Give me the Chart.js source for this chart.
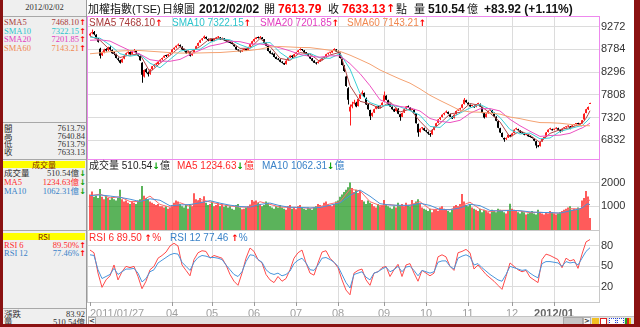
<!DOCTYPE html>
<html>
<head>
<meta charset="utf-8">
<title>加權指數(TSE) 日線圖</title>
<script src="https://cdn.jsdelivr.net/npm/chart.js@4.4.0/dist/chart.umd.min.js"></script>
<style>
    * { box-sizing: border-box; }
    body {
        margin: 0; width: 640px; height: 327px; overflow: hidden; position: relative; background: #fff;
        font-family: "Liberation Sans", "Noto Sans CJK TC", sans-serif;
    }
    canvas { position: absolute; z-index: 1; }
    .frame { position: absolute; background: #8a1212; z-index: 5; }
    .panel { position: absolute; border: 1px solid #c8c8c8; z-index: 0; }
    #pricePanel { border-color: #ee88ee; z-index: 2; }

    /* barra superior */
    .ttl { position: absolute; top: 3px; font-size: 11px; line-height: 12px; white-space: pre; color: #111; z-index: 3; }
    .ttl.b { font-weight: bold; font-size: 12px; }
    .red { color: #ff0000; }

    /* leyendas dentro de los paneles */
    .lg { position: absolute; font-size: 10px; line-height: 10px; white-space: pre; z-index: 3; }
    .arr { font-family: "DejaVu Sans", sans-serif; font-weight: bold; font-size: 9px; }
    .aUp { color: #ff0000; }
    .aDn { color: #00a000; }

    /* panel izquierdo */
    #side { position: absolute; left: 3px; top: 0; width: 84px; height: 324px; background: #efefef; border-right: 1px solid #9a9a9a; }
    .sep { position: absolute; left: 0; width: 83px; height: 1px; background: #a8a8a8; }
    .row { position: absolute; left: 0; width: 83px; height: 9px; font: 8.5px/9px "Liberation Serif", "Noto Sans CJK TC", serif; color: #333; }
    .row .k { position: absolute; left: 1px; }
    .row .v { position: absolute; right: 7px; }
    .row .vr { position: absolute; right: 1px; }
    .row .ar { position: absolute; right: 0; font: bold 8px/9px "DejaVu Sans", sans-serif; }
    .hdr { position: absolute; left: 0; width: 82px; height: 7px; background: #ffff00; text-align: center;
           font: 8px/7px "Noto Sans CJK TC", "Liberation Serif", serif; color: #7a1a00; }

    /* barra de desplazamiento */
    #scroll { position: absolute; left: 88px; top: 316px; width: 546px; height: 9px; background: #e2e2e2; border-top: 1px solid #c4c4c4; z-index: 4; }
    .sbtn { position: absolute; top: 0; width: 8px; height: 8px; background: #f6f6f6; border: 1px solid #b0b0b0;
            font: bold 7px/6px "DejaVu Sans", sans-serif; text-align: center; color: #333; }
    .ico { position: absolute; top: 1px; width: 7px; height: 7px; }
</style>
</head>
<body>

<!-- marco -->
<div class="frame" style="left:0;top:0;width:3px;height:327px"></div>
<div class="frame" style="left:634px;top:0;width:6px;height:327px"></div>
<div class="frame" style="left:0;top:324px;width:640px;height:3px"></div>

<!-- panel izquierdo -->
<div id="side">
    <div class="row" style="top:3px;text-align:center">2012/02/02</div>
    <div class="sep" style="top:16px"></div>

    <div class="row" style="top:18px;color:#a83a3a"><span class="k">SMA5</span><span class="v">7468.10</span><span class="ar aUp">↑</span></div>
    <div class="row" style="top:26.5px;color:#2cc4cc"><span class="k">SMA10</span><span class="v">7322.15</span><span class="ar aUp">↑</span></div>
    <div class="row" style="top:35px;color:#e23cc0"><span class="k">SMA20</span><span class="v">7201.85</span><span class="ar aUp">↑</span></div>
    <div class="row" style="top:43.5px;color:#f08850"><span class="k">SMA60</span><span class="v">7143.21</span><span class="ar aUp">↑</span></div>
    <div class="sep" style="top:122px"></div>

    <div class="row" style="top:123.5px"><span class="k">開</span><span class="vr">7613.79</span></div>
    <div class="row" style="top:131.5px"><span class="k">高</span><span class="vr">7640.84</span></div>
    <div class="row" style="top:139.5px"><span class="k">低</span><span class="vr">7613.79</span></div>
    <div class="row" style="top:148px"><span class="k">收</span><span class="vr">7633.13</span></div>
    <div class="sep" style="top:159px"></div>

    <div class="hdr" style="top:161px">成交量</div>
    <div class="row" style="top:169px"><span class="k">成交量</span><span class="v">510.54億</span><span class="ar aDn">↓</span></div>
    <div class="row" style="top:177.5px;color:#ff2a2a"><span class="k">MA5</span><span class="v">1234.63億</span><span class="ar aDn">↓</span></div>
    <div class="row" style="top:186.5px;color:#3a82c8"><span class="k">MA10</span><span class="v">1062.31億</span><span class="ar aDn">↓</span></div>
    <div class="sep" style="top:230px"></div>

    <div class="hdr" style="top:233px">RSI</div>
    <div class="row" style="top:240.5px;color:#ff2a2a"><span class="k">RSI 6</span><span class="v">89.50%</span><span class="ar aUp">↑</span></div>
    <div class="row" style="top:249px;color:#3a82c8"><span class="k">RSI 12</span><span class="v">77.46%</span><span class="ar aUp">↑</span></div>
    <div class="sep" style="top:308px"></div>

    <div class="row" style="top:310px"><span class="k">漲跌</span><span class="vr">83.92</span></div>
    <div class="row" style="top:318px"><span class="k">量</span><span class="vr">510.54億</span></div>
</div>

<!-- titulo -->
<div class="ttl" style="left:88px">加權指數(TSE)</div>
<div class="ttl" style="left:162px">日線圖</div>
<div class="ttl b" style="left:199px">2012/02/02</div>
<div class="ttl" style="left:264px">開</div>
<div class="ttl b red" style="left:278px">7613.79</div>
<div class="ttl" style="left:328px">收</div>
<div class="ttl b red" style="left:342px">7633.13</div>
<div class="ttl red" style="left:386px;font-family:'DejaVu Sans';font-weight:bold;font-size:11px">↑</div>
<div class="ttl" style="left:396px">點</div>
<div class="ttl" style="left:414px">量</div>
<div class="ttl b" style="left:428px">510.54</div>
<div class="ttl" style="left:467px">億</div>
<div class="ttl b" style="left:484px">+83.92 (+1.11%)</div>

<!-- marcos de los paneles -->
<div class="panel" id="pricePanel" style="left:87px;top:16px;width:513px;height:144px"></div>
<div class="panel" style="left:87px;top:159px;width:513px;height:72px"></div>
<div class="panel" style="left:87px;top:230px;width:513px;height:73px"></div>

<canvas id="priceChart" width="545" height="142" style="left:88px;top:17px"></canvas>
<canvas id="volChart" width="545" height="70" style="left:88px;top:160px"></canvas>
<canvas id="rsiChart" width="545" height="96" style="left:88px;top:231px"></canvas>

<!-- leyendas -->
<div class="lg" style="left:89px;top:18px;color:#a83a3a">SMA5 7468.10<span class="arr aUp">↑</span></div>
<div class="lg" style="left:172px;top:18px;color:#2cc4cc">SMA10 7322.15<span class="arr aUp">↑</span></div>
<div class="lg" style="left:260px;top:18px;color:#e23cc0">SMA20 7201.85<span class="arr aUp">↑</span></div>
<div class="lg" style="left:347px;top:18px;color:#f08850">SMA60 7143.21<span class="arr aUp">↑</span></div>

<div class="lg" style="left:89px;top:161px;color:#222">成交量 510.54<span class="arr aDn">↓</span>億</div>
<div class="lg" style="left:177px;top:161px;color:#ff2a2a">MA5 1234.63<span class="arr aDn">↓</span>億</div>
<div class="lg" style="left:262px;top:161px;color:#3a82c8">MA10 1062.31<span class="arr aDn">↓</span>億</div>

<div class="lg" style="left:89px;top:233px;color:#ff2a2a">RSI 6 89.50 <span class="arr aUp">↑</span>%</div>
<div class="lg" style="left:170px;top:233px;color:#3a82c8">RSI 12 77.46 <span class="arr aUp">↑</span>%</div>

<!-- barra de desplazamiento -->
<div id="scroll">
    <div class="sbtn" style="left:0">&lt;</div>
    <div style="position:absolute;left:475px;top:0;width:20px;height:8px;background:#c6c6c6;border:1px solid #a8a8a8"></div>
    <div class="sbtn" style="left:495px">&gt;</div>
    <div class="ico" style="left:504px;background:#f2c020"></div>
    <div class="ico" style="left:512px;background:#fff;border:1px solid #e02020"></div>
    <div class="ico" style="left:521px;background:#fff;border:1px dotted #2040e0"></div>
    <div class="ico" style="left:529px;background:#fff;border:1px dotted #2040e0"></div>
    <div class="ico" style="left:537px;width:6px;background:linear-gradient(90deg,#20a020 33%,#e02020 33% 66%,#f0c000 66%)"></div>
</div>

<script>
// Ejes: posiciones de los meses (índice de sesión) y sus etiquetas
const tickIdx = [0, 41, 61, 82, 103, 124, 147, 168, 189, 211, 232];
const tickLabels = ['2011/01/27', '04', '05', '06', '07', '08', '09', '10', '11', '12', '2012/01'];
const priceTicks = [6832, 7076, 7320, 7564, 7808, 8052, 8296, 8540, 8784, 9028, 9272];
const volTicks = [1000, 2000];
const rsiTicks = [20, 50, 80];

// Velas diarias [apertura, máximo, mínimo, cierre]
const candles = [
    [9080,9140,9060,9120],[9130,9210,9110,9150],[9160,9180,9090,9110],[9100,9110,9020,9040],[9020,9030,8930,8950],
    [8800,8820,8590,8650],[8660,8740,8640,8720],[8730,8800,8700,8780],[8790,8810,8740,8760],[8770,8840,8750,8820],
    [8830,8850,8760,8780],[8770,8780,8690,8700],[8710,8740,8660,8690],[8680,8690,8590,8600],[8590,8610,8530,8560],
    [8550,8560,8480,8500],[8510,8590,8500,8580],[8590,8660,8570,8650],[8660,8720,8640,8700],[8710,8740,8680,8720],
    [8730,8740,8660,8680],[8690,8760,8680,8740],[8750,8790,8730,8760],[8750,8760,8690,8700],[8690,8700,8630,8650],
    [8640,8650,8540,8550],[8500,8510,8070,8240],[8200,8350,8180,8340],[8360,8380,8270,8300],[8290,8310,8200,8250],
    [8260,8360,8240,8350],[8360,8430,8340,8420],[8430,8470,8400,8450],[8460,8500,8440,8480],[8470,8530,8460,8520],
    [8530,8570,8510,8560],[8570,8610,8550,8600],[8610,8660,8600,8650],[8660,8670,8620,8640],[8650,8690,8630,8680],
    [8690,8720,8670,8700],[8720,8790,8710,8780],[8790,8830,8770,8820],[8830,8870,8810,8860],[8870,8910,8850,8890],
    [8880,8890,8830,8850],[8840,8850,8770,8780],[8790,8800,8740,8760],[8750,8760,8690,8700],[8710,8760,8700,8740],
    [8730,8740,8630,8650],[8660,8710,8650,8700],[8710,8790,8700,8780],[8790,8860,8780,8850],[8860,8930,8850,8920],
    [8930,8990,8920,8980],[8990,9030,8970,9020],[9030,9080,9010,9060],[9050,9060,9000,9020],[9010,9020,8960,8980],
    [8970,9010,8960,9000],[9000,9010,8950,8960],[8970,9020,8960,9010],[9010,9050,9000,9040],[9040,9070,9030,9050],
    [9040,9050,8990,9000],[9000,9040,8990,9030],[9020,9030,8970,8980],[8990,9000,8950,8960],[8970,8980,8930,8940],
    [8950,8960,8910,8920],[8930,8940,8890,8900],[8890,8900,8840,8850],[8840,8850,8770,8780],[8770,8780,8740,8760],
    [8750,8760,8720,8740],[8740,8780,8730,8770],[8770,8800,8760,8790],[8790,8800,8750,8760],[8770,8840,8760,8830],
    [8840,8910,8830,8900],[8900,8970,8890,8960],[8960,9020,8950,9010],[9010,9050,9000,9040],[9040,9060,9020,9030],
    [9030,9070,9020,9050],[9040,9050,9000,9010],[9000,9010,8910,8920],[8920,8930,8850,8860],[8860,8870,8740,8750],
    [8750,8760,8690,8700],[8700,8720,8670,8680],[8690,8700,8610,8620],[8620,8630,8570,8580],[8570,8600,8550,8560],
    [8560,8570,8510,8520],[8510,8530,8480,8500],[8490,8500,8450,8460],[8470,8550,8460,8540],[8550,8610,8540,8600],
    [8610,8660,8600,8650],[8650,8660,8600,8620],[8630,8690,8620,8680],[8690,8730,8680,8720],[8730,8770,8720,8760],
    [8770,8810,8760,8790],[8780,8790,8750,8770],[8760,8770,8710,8720],[8720,8730,8690,8700],[8690,8700,8630,8640],
    [8640,8650,8580,8590],[8590,8600,8530,8540],[8540,8550,8490,8500],[8500,8510,8460,8480],[8490,8530,8480,8520],
    [8530,8570,8520,8560],[8560,8610,8550,8600],[8600,8630,8590,8620],[8630,8690,8620,8680],[8690,8710,8670,8700],
    [8710,8730,8690,8720],[8720,8770,8710,8760],[8770,8810,8760,8790],[8780,8790,8730,8740],[8740,8760,8700,8720],
    [8700,8710,8590,8600],[8580,8590,8440,8450],[8440,8450,8300,8320],[8200,8220,7980,8000],[7950,7970,7600,7700],
    [7450,7600,7150,7550],[7560,7660,7520,7600],[7620,7700,7600,7650],[7640,7660,7540,7560],[7570,7730,7560,7720],
    [7730,7830,7720,7820],[7830,7900,7810,7860],[7850,7860,7750,7760],[7740,7750,7590,7600],[7600,7610,7490,7500],
    [7480,7490,7270,7350],[7360,7430,7340,7420],[7430,7510,7420,7500],[7510,7570,7500,7560],[7560,7570,7510,7520],
    [7530,7590,7520,7580],[7590,7650,7580,7640],[7660,7880,7650,7800],[7790,7800,7690,7700],[7690,7700,7590,7600],
    [7610,7620,7550,7560],[7550,7560,7490,7500],[7500,7510,7440,7450],[7460,7530,7450,7520],[7510,7520,7390,7400],
    [7390,7400,7250,7330],[7340,7430,7330,7420],[7430,7510,7420,7500],[7510,7570,7500,7560],[7560,7580,7530,7540],
    [7530,7540,7470,7480],[7490,7510,7480,7500],[7490,7500,7410,7420],[7410,7420,7190,7200],[7180,7190,6910,7000],
    [7010,7090,7000,7080],[7090,7120,7060,7100],[7090,7100,7030,7050],[7050,7060,7000,7020],[7010,7020,6950,6980],
    [6970,6990,6910,6950],[6960,7060,6950,7050],[7060,7130,7050,7120],[7130,7210,7120,7200],[7210,7290,7200,7280],
    [7290,7330,7270,7320],[7330,7390,7320,7380],[7390,7430,7370,7420],[7430,7470,7420,7450],[7440,7450,7390,7400],
    [7390,7400,7330,7340],[7340,7350,7290,7300],[7310,7390,7300,7380],[7390,7470,7380,7460],[7470,7510,7460,7500],
    [7500,7530,7490,7520],[7530,7610,7520,7600],[7610,7740,7600,7700],[7690,7700,7640,7650],[7640,7650,7590,7600],
    [7590,7600,7550,7560],[7570,7590,7560,7580],[7570,7580,7530,7540],[7550,7610,7540,7600],[7610,7640,7600,7620],
    [7610,7620,7550,7560],[7540,7550,7410,7420],[7410,7420,7300,7320],[7330,7410,7320,7400],[7410,7470,7400,7460],
    [7470,7490,7460,7480],[7470,7480,7420,7430],[7420,7430,7340,7350],[7340,7350,7240,7250],[7240,7250,7090,7100],
    [7090,7100,6990,7000],[6990,7000,6890,6900],[6880,6890,6800,6850],[6860,6890,6840,6880],[6890,6960,6880,6950],
    [6940,6950,6900,6920],[6930,6990,6920,6980],[6990,7070,6980,7060],[7070,7100,7060,7080],[7070,7080,7040,7050],
    [7040,7050,6990,7000],[7000,7010,6970,6980],[6970,6980,6940,6950],[6950,6970,6940,6960],[6950,6960,6910,6920],
    [6910,6920,6890,6900],[6890,6900,6870,6880],[6870,6880,6810,6820],[6810,6820,6660,6720],[6710,6730,6680,6700],
    [6710,6810,6700,6800],[6810,6870,6800,6860],[6870,6910,6860,6900],[6910,7010,6900,7000],[7010,7070,7000,7060],
    [7070,7100,7060,7080],[7070,7080,7040,7050],[7060,7080,7050,7070],[7080,7110,7070,7100],[7090,7100,7050,7060],
    [7050,7060,7000,7020],[7030,7090,7020,7080],[7090,7110,7080,7100],[7110,7130,7100,7120],[7130,7150,7120,7140],
    [7130,7140,7070,7075],[7120,7160,7110,7150],[7160,7180,7150,7170],[7180,7200,7170,7190],[7200,7210,7170,7180],
    [7180,7200,7170,7191],[7200,7270,7190,7260],[7280,7410,7270,7400],[7420,7510,7410,7498],[7500,7560,7480,7549.21],
    [7613.79,7640.84,7613.79,7633.13]
];

// Volumen diario (億)
const volumes = [
    1500,1620,1400,1450,1350,1730,1400,1300,1450,1350, 1280,1400,1300,1250,1350,1700,1300,1200,1250,1150,
    1100,1200,1150,1100,1250,1300,1860,1450,1350,1300, 1200,1150,1100,1050,1100,1000,1000,950,1000,900,
    950,1050,1150,1250,1200,1100,1000,950,1050,900, 1100,1000,1550,1300,1250,1350,1200,1420,1150,1050,
    1100,1200,1000,1050,1150,1000,1100,980,1050,950, 1000,900,850,1050,1100,950,880,900,950,1000,
    1080,1270,1200,1250,1150,1100,1000,1050,1200,1150, 1000,950,900,1000,950,1050,950,900,850,1000,
    1050,900,950,880,1000,1050,950,900,850,950, 900,850,950,1000,1100,1050,1000,1150,1200,1100,
    1050,1000,1100,1200,1250,1400,1500,1600,1700,1800, 2000,1770,1600,1700,1560,1650,1270,1200,1100,1250,
    1150,1100,1000,950,1100,1000,1050,1270,1100,1000, 950,900,1000,950,1150,1050,1100,1000,1150,1050,
    1000,1270,1100,1200,1300,1100,950,900,850,800, 900,750,850,900,800,950,1000,900,850,800,
    750,850,1000,1050,1000,1100,1520,1200,1050,1000, 1100,950,900,850,800,900,750,850,800,750,
    700,850,800,750,900,850,800,750,700,800, 1110,900,850,800,750,700,800,750,650,700,
    750,800,700,650,850,750,700,650,750,700, 800,750,700,650,700,750,800,850,900,950,
    1000,850,900,850,950,899.6,1250,1350,1650,1413, 510.54
];

// Medias móviles, muestreadas en estas sesiones
const maIdx = [0,5,10,15,20,25,30,35,40,45,50,55,60,65,70,75,80,85,90,95,100,105,110,115,120,125,
               130,135,140,145,150,155,160,165,170,175,180,185,190,195,200,205,210,215,220,225,230,235,240,245,
               246,247,248,249,250];
const sma5 = [9070,8980,8772,8610,8666,8680,8296,8486,8654,8840,8726,8846,9016,9012,8966,8806,8810,9018,8848,8592,
              8550,8714,8684,8520,8664,8722,8004,7670,7614,7516,7660,7440,7500,7240,7020,7194,7398,7432,7622,7580,
              7416,7226,6900,7034,6942,6784,6980,7060,7103,7176,7198,7244,7306,7380,7468.10];
const sma10 = [9050,9025,8876,8691,8638,8673,8488,8391,8570,8747,8783,8786,8931,9014,8989,8886,8808,8914,8933,8720,
               8571,8632,8699,8602,8592,8693,8363,7837,7642,7565,7588,7550,7470,7370,7130,7107,7296,7415,7527,7601,
               7498,7321,7063,6967,6988,6863,6882,7020,7082,7140,7138,7188,7225,7266,7322.15];
const sma20 = [8980,8990,8963,8858,8757,8682,8563,8532,8529,8569,8677,8767,8857,8900,8960,8950,8899,8900,8871,8817,
               8752,8676,8635,8617,8646,8648,8478,8265,8003,7701,7615,7558,7529,7460,7300,7239,7213,7261,7412,7508,
               7513,7461,7281,7144,7026,6915,6935,6942,6982,7080,7095,7120,7145,7172,7201.85];
const sma60 = [8690,8710,8735,8750,8760,8760,8745,8730,8715,8705,8705,8708,8714,8717,8733,8750,8762,8790,8836,8845,
               8836,8825,8822,8795,8766,8741,8661,8566,8467,8342,8243,8147,8059,7936,7798,7687,7582,7474,7442,7435,
               7418,7394,7331,7297,7251,7212,7209,7198,7174,7152,7150,7148,7146,7145,7143.21];
const volMa5 = [1450,1510,1356,1400,1200,1200,1432,1080,960,1150,1000,1290,1184,1080,1016,970,962,1194,1080,970,
                950,956,910,990,1100,1190,1720,1656,1194,1030,1074,1010,1060,1194,880,850,860,1000,1174,880,
                770,830,832,800,730,750,720,710,900,890,970,1060,1220,1313,1234.63];
const volMa10 = [1450,1480,1433,1378,1300,1200,1316,1256,1020,1055,1075,1145,1237,1132,1048,993,966,1078,1137,1025,
                 960,953,933,950,1045,1145,1455,1688,1425,1112,1052,1042,1035,1127,1037,865,855,930,1087,1027,
                 825,800,831,816,765,740,735,715,805,895,940,990,1065,1111,1062.31];

// RSI, una lectura cada dos sesiones
const RSI_STEP = 2;
const rsi6 = [74,70,40,19,30,36,52,30,42,50, 48,50,35,17,28,45,50,62,66,71, 80,84,80,52,44,36,60,70,73,72,
              62,66,64,62,52,38,28,22,40,62, 77,72,60,55,38,30,26,35,28,32, 45,62,70,74,55,40,37,55,71,73,
              62,56,48,30,15,8,40,44,46,30, 22,40,42,48,50,35,45,53,35,52, 54,40,28,44,40,36,40,64,67,64,
              50,44,70,72,75,70,46,52,45,38, 33,28,22,16,35,55,50,45,42,44, 34,30,26,60,68,66,63,60,48,62,
              58,60,47,68,86,89.50];
const rsi12 = [67,66,45,32,35,38,47,38,42,46, 46,47,40,27,32,42,45,55,59,63, 67,69,68,56,50,44,56,63,66,65,
               63,63,62,60,52,45,38,35,42,57, 67,66,60,56,45,40,38,40,36,38, 43,54,59,62,55,45,44,52,62,63,
               60,56,50,38,26,18,38,40,42,34, 30,40,42,46,49,42,45,50,42,49, 50,44,36,44,42,40,42,56,58,58,
               50,46,62,65,67,64,52,54,48,43, 38,34,30,28,38,50,48,46,44,45, 40,36,33,54,57,57,56,55,50,57,
               55,56,52,62,72,77.46];

// Colores
const UP = '#ff1e1e', DOWN = '#000000';
const VOL_UP = '#ff2424', VOL_DOWN = '#249a24';
const GRID = '#dcdcdc';
const X_MIN = -1, X_MAX = 254.5;

const candleColors = candles.map(c => c[3] >= c[0] ? UP : DOWN);
const volColors = candles.map((c, i) => {
    const prev = i ? candles[i - 1][3] : c[0];
    return c[3] >= prev ? VOL_UP : VOL_DOWN;
});

// Eje X compartido; sólo el panel RSI muestra las fechas
function xAxis(showLabels) {
    const idx = showLabels ? tickIdx.concat([254]) : tickIdx;
    const hidden = v => v === 254;
    return {
        type: 'linear', min: X_MIN, max: X_MAX, offset: false,
        afterBuildTicks: s => { s.ticks = idx.map(v => ({ value: v })); },
        afterFit: s => { s.height = showLabels ? 25 : 0; s.paddingLeft = 0; s.paddingRight = 0; },
        grid: {
            offset: false, drawTicks: showLabels, tickLength: 4,
            color: ctx => (ctx.tick && (ctx.tick.value === 0 || hidden(ctx.tick.value))) ? 'rgba(0,0,0,0)' : GRID,
            tickColor: ctx => (ctx.tick && hidden(ctx.tick.value)) ? 'rgba(0,0,0,0)' : '#9a9a9a'
        },
        border: { display: false },
        ticks: {
            display: showLabels, autoSkip: false, maxRotation: 0, minRotation: 0, align: 'inner', padding: 1,
            callback: (v, i) => tickLabels[i] ?? '',
            color: ctx => ctx.tick && ctx.tick.value === 232 ? '#666' : '#a0a0a0',
            font: ctx => ({ family: 'Liberation Sans', size: 11, weight: ctx.tick && ctx.tick.value === 232 ? 'bold' : 'normal' })
        }
    };
}

function yAxis(min, max, ticks) {
    return {
        position: 'right', min, max,
        afterBuildTicks: s => { s.ticks = ticks.map(v => ({ value: v })); },
        afterFit: s => { s.width = 34; s.paddingTop = 0; s.paddingBottom = 0; },
        grid: { color: GRID, drawTicks: false },
        border: { display: false },
        ticks: { padding: 2, color: '#333', font: { family: 'Liberation Sans', size: 11 }, callback: v => String(v) }
    };
}

function baseOptions(yMin, yMax, yTicks, showX) {
    return {
        responsive: false, animation: false, events: [],
        layout: { padding: 0 },
        plugins: { legend: { display: false }, tooltip: { enabled: false } },
        scales: { x: xAxis(showX), y: yAxis(yMin, yMax, yTicks) }
    };
}

const maLine = (vals, color) => ({
    type: 'line', data: maIdx.map((x, k) => ({ x, y: vals[k] })),
    borderColor: color, borderWidth: 1, pointRadius: 0, tension: 0, order: 0
});

// Panel de precios: velas + SMA
new Chart(document.getElementById('priceChart'), {
    type: 'bar',
    data: {
        datasets: [
            maLine(sma60, '#f4a272'),
            maLine(sma20, '#ec50c0'),
            maLine(sma10, '#3ccfd6'),
            maLine(sma5, '#b04848'),
            {
                data: candles.map((c, i) => ({ x: i, y: [c[0], c[3]] })),
                backgroundColor: candleColors, barThickness: 2, minBarLength: 1,
                grouped: false, inflateAmount: 0, borderWidth: 0, order: 1
            },
            {
                data: candles.map((c, i) => ({ x: i + 0.25, y: [c[2], c[1]] })),
                backgroundColor: candleColors, barThickness: 1,
                grouped: false, inflateAmount: 0, borderWidth: 0, order: 2
            }
        ]
    },
    options: baseOptions(6430, 9480, priceTicks, false)
});

// Panel de volumen
new Chart(document.getElementById('volChart'), {
    type: 'bar',
    data: {
        datasets: [
            maLine(volMa10, '#4a92d8'),
            maLine(volMa5, '#ff6a6a'),
            {
                data: volumes.map((v, i) => ({ x: i, y: v })),
                backgroundColor: volColors, barThickness: 1.5,
                grouped: false, inflateAmount: 0, borderWidth: 0, order: 1
            }
        ]
    },
    options: baseOptions(0, 2954, volTicks, false)
});

// Panel RSI
new Chart(document.getElementById('rsiChart'), {
    type: 'line',
    data: {
        datasets: [
            { data: rsi12.map((v, k) => ({ x: k * RSI_STEP, y: v })), borderColor: '#4a96dc', borderWidth: 1, pointRadius: 0, tension: 0 },
            { data: rsi6.map((v, k) => ({ x: k * RSI_STEP, y: v })), borderColor: '#ff4a4a', borderWidth: 1, pointRadius: 0, tension: 0 }
        ]
    },
    options: baseOptions(-2.6, 102.1, rsiTicks, true)
});
</script>
</body>
</html>
